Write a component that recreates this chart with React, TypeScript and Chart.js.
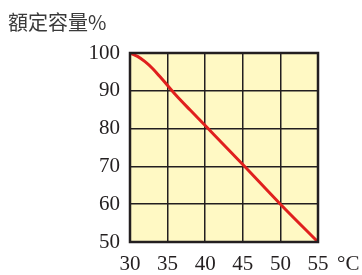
import React, { useEffect, useRef } from "react";
import { Chart, registerables } from "chart.js";
Chart.register(...registerables);

const temps = [30, 31, 32, 33, 34, 35, 36, 38, 40, 45, 50, 55];
const capacity = [100, 99.1, 97.7, 95.9, 93.7, 91.4, 89.1, 84.9, 80.8, 70.5, 60, 50];
const xTicks = [30, 35, 40, 45, 50, 55];
const yTicks = [50, 60, 70, 80, 90, 100];
const yTitle = "額定容量%";
const xUnit = "°C";

const bgPlugin = {
  id: "bgPlugin",
  beforeDraw(chart: any) {
    const { ctx, chartArea: a } = chart;
    ctx.save();
    ctx.fillStyle = "#FFF9C4";
    ctx.fillRect(a.left, a.top, a.right - a.left, a.bottom - a.top);
    ctx.restore();
  },
  afterDraw(chart: any) {
    const { ctx, chartArea: a } = chart;
    ctx.save();
    ctx.strokeStyle = "#231f20";
    ctx.lineWidth = 2.5;
    ctx.strokeRect(a.left, a.top, a.right - a.left, a.bottom - a.top);
    ctx.fillStyle = "#3a3a3a";
    ctx.font = "20px 'Noto Sans CJK TC', sans-serif";
    ctx.textBaseline = "middle";
    ctx.textAlign = "left";
    ctx.fillText(yTitle, 8, 22);
    ctx.font = "21px 'Liberation Serif', serif";
    ctx.fillStyle = "#231f20";
    ctx.fillText(xUnit, 337, 264);
    ctx.restore();
  },
};

export default function App() {
  const ref = useRef<HTMLCanvasElement>(null);
  useEffect(() => {
    document.body.style.margin = "0";
    const chart = new Chart(ref.current!, {
      type: "line",
      data: {
        datasets: [
          {
            data: temps.map((t, i) => ({ x: t, y: capacity[i] })),
            borderColor: "#E0201E",
            borderWidth: 3,
            pointRadius: 0,
            cubicInterpolationMode: "monotone",
          },
        ],
      },
      options: {
        animation: false,
        responsive: false,
        layout: { padding: { top: 53, right: 44, left: 0, bottom: 0 } },
        plugins: { legend: { display: false }, tooltip: { enabled: false } },
        scales: {
          x: {
            type: "linear",
            min: 30,
            max: 55,
            afterBuildTicks: (s: any) => {
              s.ticks = xTicks.map((v) => ({ value: v }));
            },
            afterFit: (s: any) => {
              s.height = 33;
            },
            grid: { color: "#231f20", lineWidth: 1.5, drawTicks: false },
            border: { display: false },
            ticks: {
              color: "#231f20",
              padding: 10,
              font: { family: "'Liberation Serif', serif", size: 21 },
            },
          },
          y: {
            min: 50,
            max: 100,
            afterBuildTicks: (s: any) => {
              s.ticks = yTicks.map((v) => ({ value: v }));
            },
            afterFit: (s: any) => {
              s.width = 130;
            },
            grid: { color: "#231f20", lineWidth: 1.5, drawTicks: false },
            border: { display: false },
            ticks: {
              color: "#231f20",
              padding: 10,
              font: { family: "'Liberation Serif', serif", size: 21 },
            },
          },
        },
      },
      plugins: [bgPlugin],
    } as any);
    return () => chart.destroy();
  }, []);
  return (
    <div style={{ width: 362, height: 275 }}>
      <canvas ref={ref} width={362} height={275} style={{ display: "block" }} />
    </div>
  );
}
